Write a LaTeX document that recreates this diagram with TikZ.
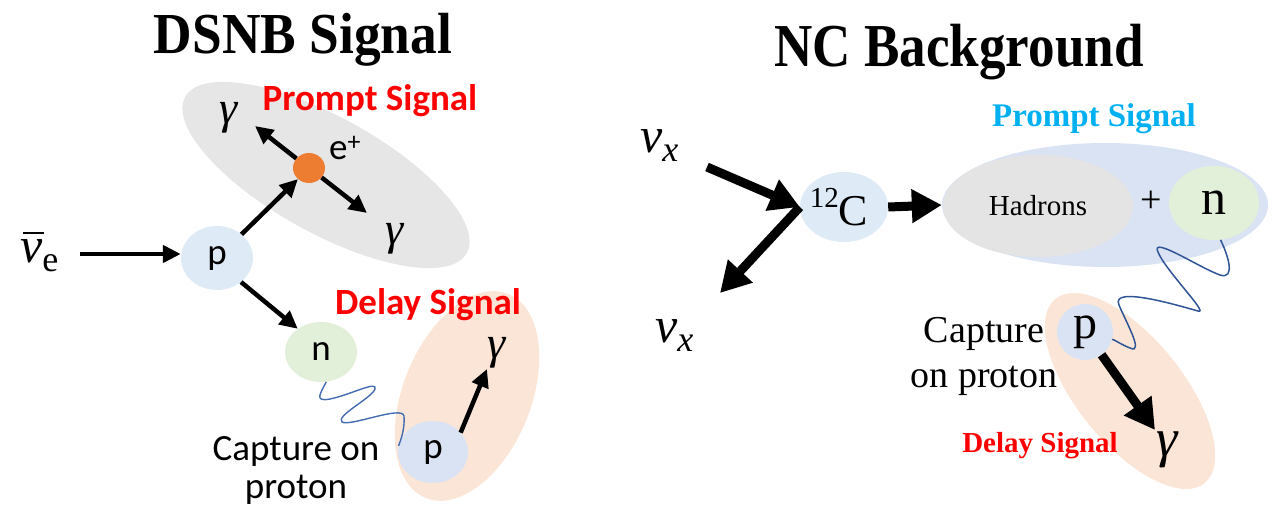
\documentclass[tikz,border=0pt]{standalone}
\usepackage{fontspec}
\usepackage{graphicx}
\usetikzlibrary{arrows.meta,shapes.geometric}
\newfontfamily\calfont{Carlito}
\newfontfamily\tnr{Liberation Serif}
\definecolor{pgray}{RGB}{230,230,230}
\definecolor{pgrayb}{RGB}{228,228,228}
\definecolor{pblue}{RGB}{222,235,247}
\definecolor{pgreen}{RGB}{226,240,217}
\definecolor{porange}{RGB}{251,229,214}
\definecolor{pblueb}{RGB}{218,227,243}
\definecolor{eorange}{RGB}{237,125,49}
\definecolor{wavel}{RGB}{68,108,178}
\definecolor{waver}{RGB}{47,85,151}
\definecolor{sigblue}{RGB}{0,176,240}
\newcommand{\calt}{\calfont\fontsize{37}{40}\selectfont}
\newcommand{\gamL}{\tnr\itshape\fontsize{46}{46}\selectfont}
\newcommand{\nuf}{\tnr\itshape\fontsize{50}{50}\selectfont}
\begin{document}
\begin{tikzpicture}[x=1pt,y=-1pt,
  blob/.style={ellipse, inner sep=0pt, draw=none},
  txt/.style={inner sep=0pt},
  gam/.style={inner sep=0pt, text height=22pt, anchor=base},
  thinarrow/.style={line width=4.5pt, -{Triangle[length=18pt,width=17pt]}},
  fatarrow/.style={line width=9pt, -{Triangle[length=30pt,width=32pt]}},
  wavyl/.style={draw=wavel, line width=1.4pt},
  wavyr/.style={draw=waver, line width=1.5pt},
  ]
\useasboundingbox (0,0) rectangle (1277,513);

% ---------- titles
\node[txt, anchor=base] (t1) at (303,54) {\tnr\bfseries\fontsize{58}{60}\selectfont\scalebox{0.92}[1]{DSNB Signal}};
\node[txt, anchor=base] (t2) at (959,67) {\tnr\bfseries\fontsize{61}{64}\selectfont\scalebox{0.87}[1]{NC Background}};

% ---------- left: DSNB
\node[blob, fill=pgray, minimum width=322pt, minimum height=116pt, rotate=-29] (promptL) at (326,175) {};
\node[blob, fill=porange, minimum width=220pt, minimum height=128pt, rotate=68] (delayL) at (467,396) {};
\node[blob, fill=pblue, minimum width=72pt, minimum height=64pt] (pL) at (217,258) {\calt\raisebox{-5pt}{p}};
\node[blob, fill=pgreen, minimum width=72pt, minimum height=60pt] (nL) at (321,352) {\calt\raisebox{-3pt}{n}};
\node[blob, fill=pblueb, minimum width=70pt, minimum height=62pt] (pD) at (433,452) {\calt\raisebox{-4pt}{p}};
\node[blob, fill=eorange, minimum width=32pt, minimum height=30pt] (ep) at (309,168) {};
\node[txt, anchor=base west] (eplab) at (329,160) {\calt e\textsuperscript{+}};

\node[gam] (g1) at (229,124) {\gamL γ};
\node[gam] (g2) at (395,244) {\gamL γ};
\node[gam] (gD) at (497,358) {\gamL γ};
\node[txt, anchor=base west] (nubar) at (20,262) {\nuf\makebox[0pt][l]{\hspace{3pt}\rule[28pt]{21pt}{2.5pt}}ν\raisebox{-9pt}{\upshape\fontsize{36}{36}\selectfont e}};

\node[txt, anchor=base, text=red] (psL) at (370,111) {\calt\bfseries Prompt Signal};
\node[txt, anchor=base, text=red] (dsL) at (428,314) {\calt\bfseries Delay Signal};
\node[txt, anchor=base] (capL1) at (296,460) {\calt Capture on};
\node[txt, anchor=base] (capL2) at (296,498) {\calt proton};

\coordinate (a0s) at (80,254);
\coordinate (g1tip) at (255,126);
\coordinate (g2tip) at (367,213);
\coordinate (gDtip) at (487,369);
\draw[thinarrow] (a0s) -- (a0s -| pL.west);
\draw[thinarrow] (pL.44) -- (ep.-135);
\draw[thinarrow] (ep.143) -- (g1tip);
\draw[thinarrow] (ep.-37) -- (g2tip);
\draw[thinarrow] (pL.-45) -- (nL.135);
\draw[thinarrow] (pD.35) -- (gDtip);

\draw[wavyl] (nL.-80) .. controls (320,394) and (314,402) .. (330,399)
  .. controls (350,395) and (378,380) .. (375,389)
  .. controls (372,398) and (335,416) .. (342,422)
  .. controls (350,427) and (402,405) .. (404,416)
  .. controls (405,428) and (401,440) .. (pD.170);

% ---------- right: NC background
\node[blob, fill=pblueb, minimum width=326pt, minimum height=124pt] (promptR) at (1105,205) {};
\node[blob, fill=pgrayb, minimum width=190pt, minimum height=102pt] (hadr) at (1038,206) {\tnr\fontsize{29}{30}\selectfont Hadrons};
\node[txt] (plus) at (1151,202) {\tnr\fontsize{38}{38}\selectfont +};
\node[blob, fill=pgreen, minimum width=90pt, minimum height=74pt] (nR) at (1214,203) {\tnr\fontsize{50}{50}\selectfont\raisebox{-6pt}{n}};
\node[blob, fill=porange, minimum width=237pt, minimum height=106pt, rotate=-51] (delayR) at (1130,391) {};
\node[blob, fill=pblueb, minimum width=56pt, minimum height=56pt] (pR) at (1085,332) {\tnr\fontsize{48}{48}\selectfont\raisebox{-10pt}{p}};
\node[blob, fill=pblue, minimum width=88pt, minimum height=70pt] (C12) at (844,207) {\tnr\fontsize{44}{44}\selectfont\hspace*{-10pt}\raisebox{0.42em}{\fontsize{29}{29}\selectfont 12}C};

\node[txt, anchor=base west] (nux1) at (640,153) {\nuf ν\raisebox{-9pt}{\fontsize{36}{36}\selectfont x}};
\node[txt, anchor=base west] (nux2) at (655,342) {\nuf ν\raisebox{-9pt}{\fontsize{36}{36}\selectfont x}};
\node[txt] (gR) at (1167,450) {\tnr\itshape\fontsize{54}{54}\selectfont γ};

\node[txt, anchor=base, text=sigblue] (psR) at (1094,127) {\tnr\bfseries\fontsize{33}{36}\selectfont Prompt Signal};
\node[txt, anchor=base, text=red] (dsR) at (1040,452) {\tnr\bfseries\fontsize{29}{32}\selectfont Delay Signal};
\node[txt, anchor=base] (capR1) at (984,342) {\tnr\fontsize{38}{40}\selectfont Capture};
\node[txt, anchor=base] (capR2) at (984,387) {\tnr\fontsize{38}{40}\selectfont on proton};

\coordinate (a1s) at (707,167);
\coordinate (a2e) at (720,293);
\coordinate (gRtip) at (1155,430);
\draw[fatarrow] (a1s) -- (C12.west);
\draw[fatarrow] (C12.west) -- (a2e);
\draw[fatarrow] (C12.east) -- (promptR.west);
\draw[fatarrow] (pR.-54) -- (gRtip);

\draw[wavyr] (nR.-80) .. controls (1228,255) and (1236,280) .. (1220,275)
  .. controls (1200,268) and (1150,235) .. (1158,252)
  .. controls (1165,270) and (1210,315) .. (1198,311)
  .. controls (1180,306) and (1110,285) .. (1119,305)
  .. controls (1125,320) and (1145,355) .. (1130,348)
  .. controls (1122,345) and (1115,340) .. (pR.-15);
\end{tikzpicture}
\end{document}
